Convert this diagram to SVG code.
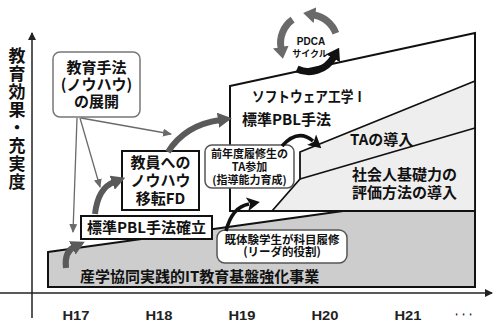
<svg xmlns="http://www.w3.org/2000/svg" width="493" height="324" viewBox="0 0 493 324">
<style>
.jp{font-family:"Noto Sans CJK JP","Noto Sans",sans-serif;font-weight:700;fill:#111}
.big{font-size:15px}
.sm{font-size:11px}
.ax{font-family:"Liberation Sans",Arial,sans-serif;font-weight:700;font-size:13px;fill:#222;text-anchor:middle}
.thin{fill:none;stroke:#6a6a6a;stroke-width:1.3}
.thick{fill:none;stroke:#5a5a5a;stroke-width:6}
.blk{fill:none;stroke:#111;stroke-width:3.5}
.ring{fill:none;stroke:#6a6a6a;stroke-width:7}
</style>
<defs>
<marker id="ah-thin" markerUnits="userSpaceOnUse" markerWidth="9" markerHeight="8" refX="8" refY="4" orient="auto"><path d="M0,0 L9,4 L0,8 z" fill="#6a6a6a"/></marker>
<marker id="ah-gray" markerUnits="userSpaceOnUse" markerWidth="14" markerHeight="15" refX="2" refY="7.5" orient="auto"><path d="M0,0 L14,7.5 L0,15 z" fill="#5a5a5a"/></marker>
<marker id="ah-blk" markerUnits="userSpaceOnUse" markerWidth="13" markerHeight="14" refX="2" refY="7" orient="auto"><path d="M0,0 L13,7 L0,14 L3,7 z" fill="#111"/></marker>
<marker id="ah-ring" markerUnits="userSpaceOnUse" markerWidth="12" markerHeight="16" refX="1" refY="8" orient="auto"><path d="M0,0 L12,8 L0,16 z" fill="#6a6a6a"/></marker>
<marker id="ah-ringb" markerUnits="userSpaceOnUse" markerWidth="12" markerHeight="16" refX="1" refY="8" orient="auto"><path d="M0,0 L12,8 L0,16 z" fill="#111"/></marker>
<marker id="ah-axis" markerUnits="userSpaceOnUse" markerWidth="8" markerHeight="8" refX="7" refY="4" orient="auto"><path d="M0,0 L8,4 L0,8 z" fill="#222"/></marker>
</defs>

<g id="axes">
<line x1="32" y1="318" x2="32" y2="33" stroke="#222" stroke-width="1.5" marker-end="url(#ah-axis)"/>
<line x1="0" y1="293" x2="492" y2="293" stroke="#222" stroke-width="1.3" marker-end="url(#ah-axis)"/>
</g>

<g id="y-label">
<text x="17" y="47" font-family="Noto Sans CJK JP,sans-serif" font-weight="700" font-size="17" fill="#111" writing-mode="vertical-rl" letter-spacing="1">教育効果・充実度</text>
</g>

<g id="x-labels">
<text class="ax" x="76" y="320" textLength="27" lengthAdjust="spacingAndGlyphs">H17</text>
<text class="ax" x="159" y="320" textLength="27" lengthAdjust="spacingAndGlyphs">H18</text>
<text class="ax" x="242" y="320" textLength="27" lengthAdjust="spacingAndGlyphs">H19</text>
<text class="ax" x="325" y="320" textLength="27" lengthAdjust="spacingAndGlyphs">H20</text>
<text class="ax" x="408" y="320" textLength="27" lengthAdjust="spacingAndGlyphs">H21</text>
<text class="ax" x="463" y="319" font-size="10" textLength="21" lengthAdjust="spacingAndGlyphs">・・・</text>
</g>

<g id="upper-region">
<polygon points="230,86 475,33 475,211 230,211" fill="#fff" stroke="#111" stroke-width="2"/>
<polygon points="300,152 475,81 475,211 272,211 300,179" fill="#eeeeee" stroke="#111" stroke-width="1.8"/>
<line x1="300" y1="179" x2="475" y2="128" stroke="#111" stroke-width="1.8"/>
<text class="jp" x="252" y="102" font-size="14.5" textLength="114" lengthAdjust="spacingAndGlyphs">ソフトウェア工学Ⅰ</text>
<text class="jp big" x="242" y="125">標準PBL手法</text>
<text class="jp big" x="350" y="145">TAの導入</text>
<text class="jp big" x="352" y="180">社会人基礎力の<tspan x="352" dy="18">評価方法の導入</tspan></text>
</g>

<g id="base-region">
<polygon points="48,252 343,211 475,211 475,287 48,287" fill="#cdcdcd" stroke="#111" stroke-width="2"/>
<text class="jp big" x="80" y="282">産学協同実践的IT教育基盤強化事業</text>
</g>

<g id="pdca">
<path class="ring" d="M335.8,33.3 A28.5,28.5 0 0 0 314,15" marker-end="url(#ah-ring)"/>
<path class="ring" d="M292.6,19.7 A28.5,28.5 0 0 0 281,48" marker-end="url(#ah-ring)"/>
<path d="M297,69 A28.5,28.5 0 0 0 333.6,57.3" fill="none" stroke="#111" stroke-width="7" marker-end="url(#ah-ringb)"/>
<text x="311" y="45" font-family="Liberation Sans,Arial,sans-serif" font-weight="700" font-size="10" fill="#111" text-anchor="middle">PDCA<tspan class="jp" x="310" dy="12" font-size="9">サイクル</tspan></text>
</g>

<g id="know-how">
<rect x="53" y="52" width="87" height="65" rx="7" fill="#fff" stroke="#777" stroke-width="1.5"/>
<text class="jp big" x="96.5" y="73" text-anchor="middle">教育手法<tspan x="96.5" dy="17">(ノウハウ)</tspan><tspan x="96.5" dy="17">の展開</tspan></text>
</g>

<g id="fd">
<rect x="122" y="151" width="77" height="59" fill="#fff" stroke="#111" stroke-width="2"/>
<text class="jp big" x="160.5" y="168" text-anchor="middle">教員への<tspan x="160.5" dy="18">ノウハウ</tspan><tspan x="160.5" dy="18">移転FD</tspan></text>
</g>

<g id="pbl-established">
<rect x="81" y="216" width="131" height="23" fill="#fff" stroke="#111" stroke-width="2"/>
<text class="jp big" x="146.5" y="233" text-anchor="middle">標準PBL手法確立</text>
</g>

<g id="ta-join">
<rect x="205" y="145" width="89" height="43" rx="7" fill="#fff" stroke="#555" stroke-width="1.5"/>
<text class="jp sm" x="249.5" y="158" text-anchor="middle">前年度履修生の<tspan x="249.5" dy="13">TA参加</tspan><tspan x="249.5" dy="13">(指導能力育成)</tspan></text>
</g>

<g id="experienced">
<rect x="217" y="230" width="130" height="33" rx="8" fill="#fff" stroke="#555" stroke-width="1.5"/>
<text class="jp" x="282" y="244" text-anchor="middle" font-size="11.5">既体験学生が科目履修<tspan x="282" dy="12">(リーダ的役割)</tspan></text>
</g>

<g id="connectors">
<path class="thin" d="M77,118 L73,232" marker-end="url(#ah-thin)"/>
<path class="thin" d="M80,118 L100,187" marker-end="url(#ah-thin)"/>
<path class="thin" d="M81,118 L171,134" marker-end="url(#ah-thin)"/>
<path class="thick" d="M66,268 Q64,252 74,247" marker-end="url(#ah-gray)"/>
<path class="thick" d="M95,214 Q98,188 114,182" marker-end="url(#ah-gray)"/>
<path class="thick" d="M168,152 Q185,125 220,120" marker-end="url(#ah-gray)"/>
<path class="blk" d="M282,146 Q298,128 313,141" marker-end="url(#ah-blk)"/>
<path class="blk" d="M226,231 Q232,207 249,204" marker-end="url(#ah-blk)"/>
</g>
</svg>
